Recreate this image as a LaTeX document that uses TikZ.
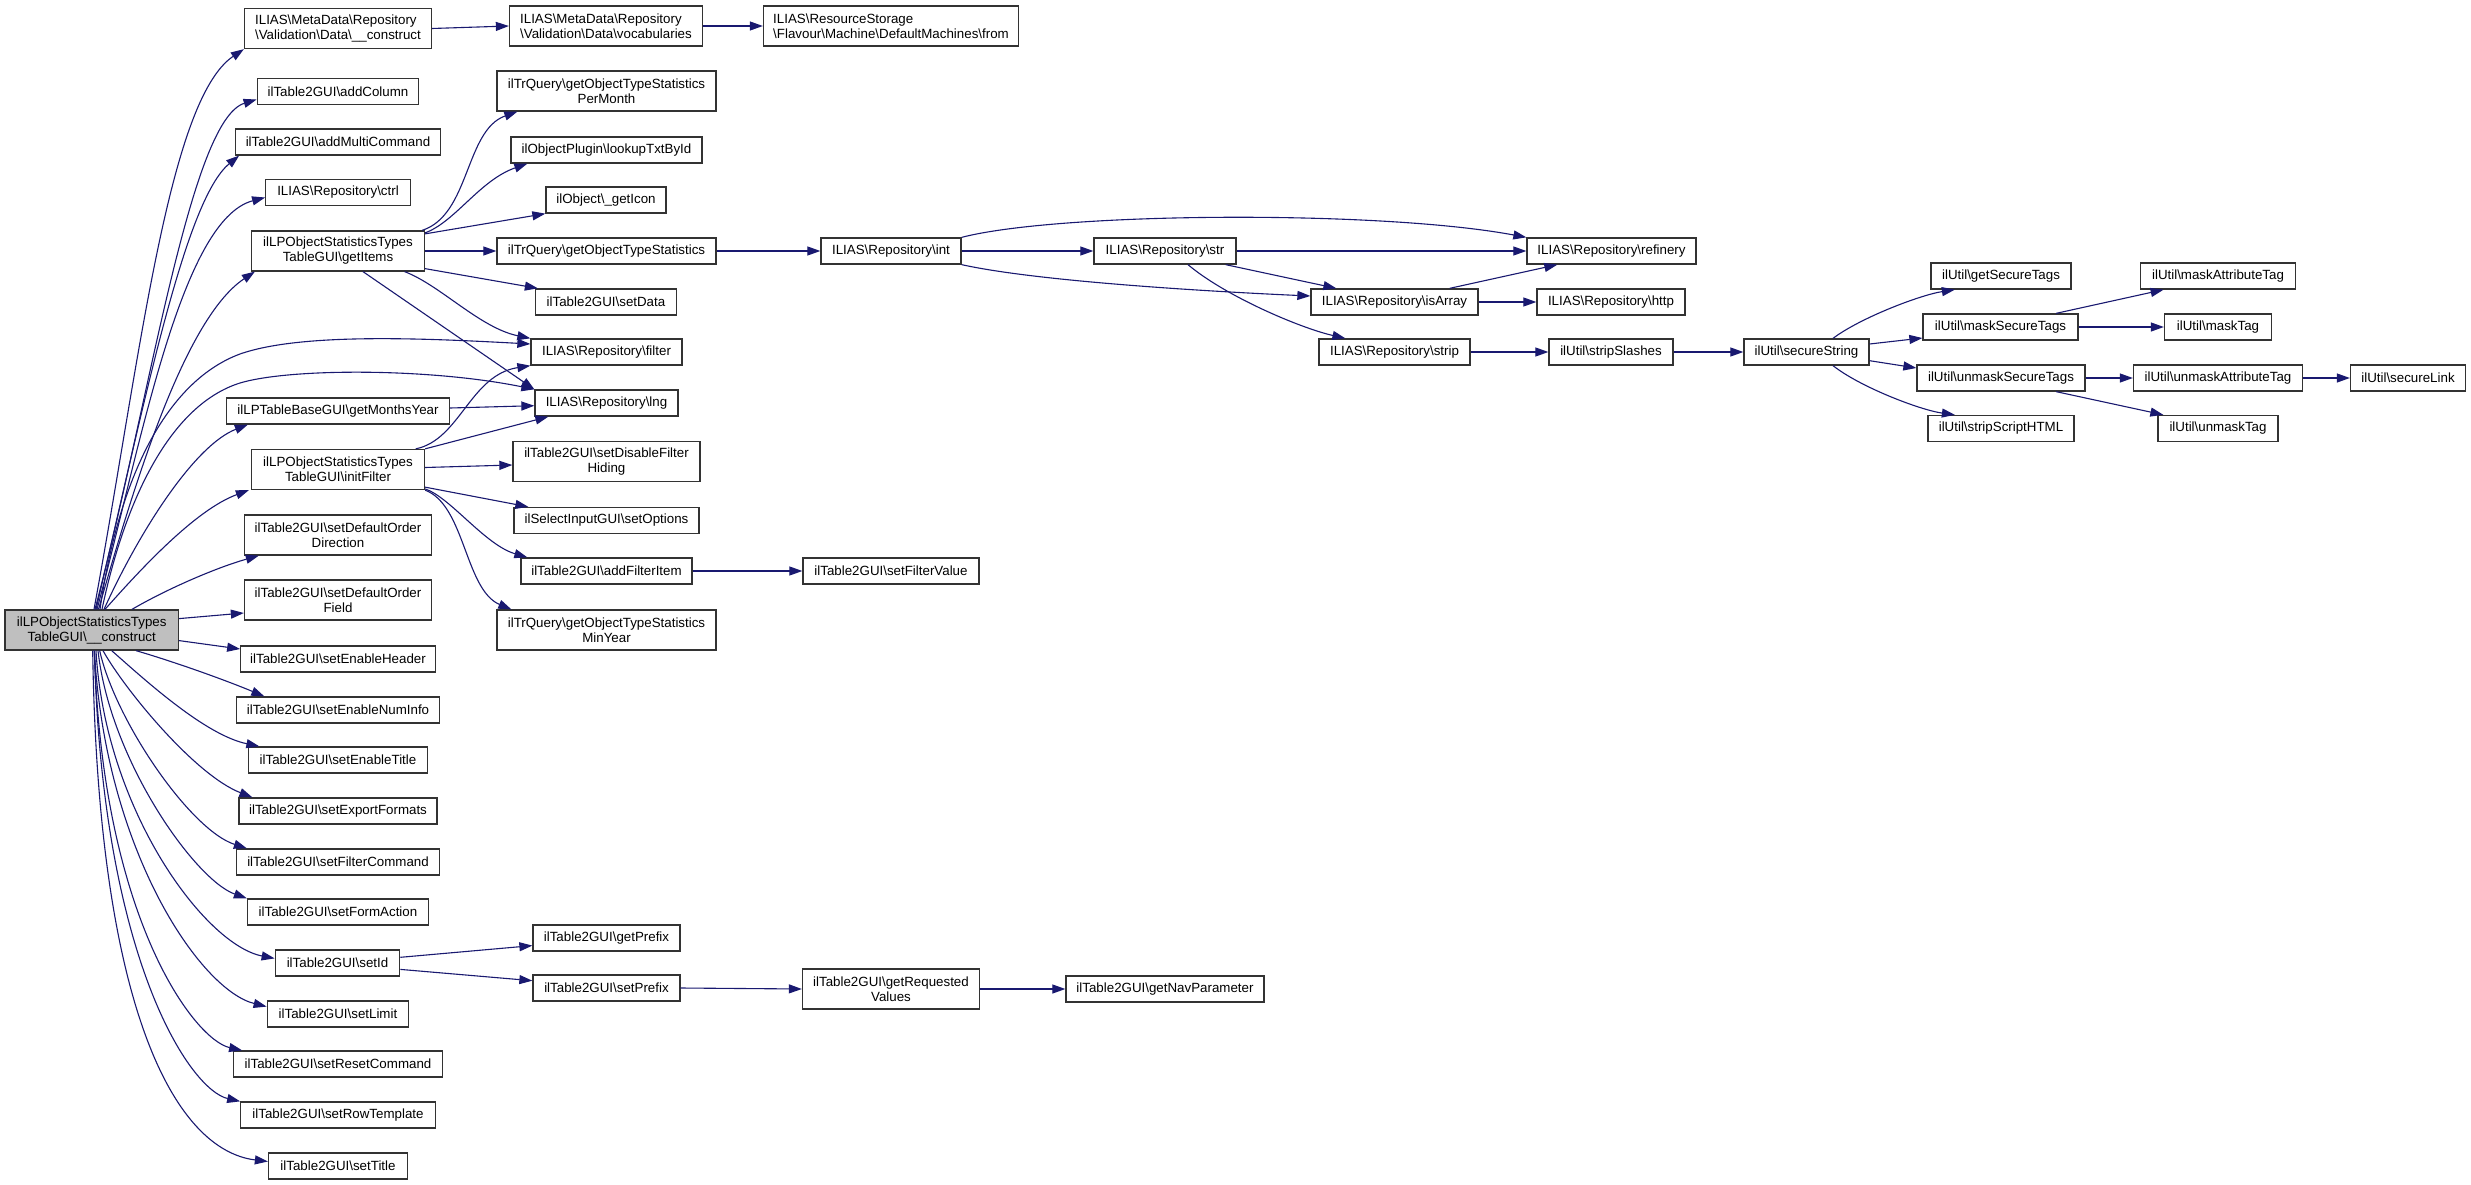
\documentclass[tikz,border=0pt]{standalone}
\usepackage{fontspec}
\setmainfont{Liberation Sans}
\usetikzlibrary{arrows.meta}
\definecolor{edgeblue}{HTML}{191970}
\definecolor{nodegray}{HTML}{BFBFBF}
\newcommand\dxbs{\textbackslash{}}
\begin{document}
\begin{tikzpicture}[x=1pt,y=-1pt,
  fn/.style={draw=black!80, line width=1.3pt, fill=white, inner xsep=2pt, inner ysep=0pt,
    minimum height=26pt, font=\fontsize{13.33pt}{15pt}\selectfont, align=center},
  fn2/.style={fn, minimum height=40pt},
  fl/.style={fn2, align=left},
  e/.style={draw=edgeblue, line width=1.1pt, -{Triangle[length=13pt,width=9pt]}},
]
\fill[white] (0,0) rectangle (2471,1185);
\useasboundingbox (0,0) rectangle (2471,1185);

% column 1
\node[fn2, fill=nodegray, minimum width=173.4pt] (main) at (91.7,630) {ilLPObjectStatisticsTypes\\TableGUI\dxbs\_\_construct};

% column 2
\node[fl, minimum width=187pt] (mdc) at (338,28.5) {ILIAS\dxbs MetaData\dxbs Repository\\\dxbs Validation\dxbs Data\dxbs\_\_construct};
\node[fn, minimum width=161.5pt] (addColumn) at (338,91.5) {ilTable2GUI\dxbs addColumn};
\node[fn, minimum width=204.5pt] (addMulti) at (338,142) {ilTable2GUI\dxbs addMultiCommand};
\node[fn, minimum width=144.5pt] (ctrl) at (338,192.5) {ILIAS\dxbs Repository\dxbs ctrl};
\node[fn2, minimum width=173pt] (getItems) at (338,251) {ilLPObjectStatisticsTypes\\TableGUI\dxbs getItems};
\node[fn, minimum width=223pt] (gmy) at (338,411) {ilLPTableBaseGUI\dxbs getMonthsYear};
\node[fn2, minimum width=173pt] (initFilter) at (338,469.5) {ilLPObjectStatisticsTypes\\TableGUI\dxbs initFilter};
\node[fn2, minimum width=187pt] (sdoDir) at (338,535) {ilTable2GUI\dxbs setDefaultOrder\\Direction};
\node[fn2, minimum width=187pt] (sdoField) at (338,600) {ilTable2GUI\dxbs setDefaultOrder\\Field};
\node[fn, minimum width=194.4pt] (seh) at (338,659) {ilTable2GUI\dxbs setEnableHeader};
\node[fn, minimum width=203pt] (seni) at (338,710) {ilTable2GUI\dxbs setEnableNumInfo};
\node[fn, minimum width=179pt] (sete) at (338,760) {ilTable2GUI\dxbs setEnableTitle};
\node[fn, minimum width=198pt] (sef) at (338,811) {ilTable2GUI\dxbs setExportFormats};
\node[fn, minimum width=203pt] (sfc) at (338,862) {ilTable2GUI\dxbs setFilterCommand};
\node[fn, minimum width=181pt] (sfa) at (338,912) {ilTable2GUI\dxbs setFormAction};
\node[fn, minimum width=124.5pt] (setId) at (337.5,963) {ilTable2GUI\dxbs setId};
\node[fn, minimum width=141.5pt] (setLimit) at (338,1014) {ilTable2GUI\dxbs setLimit};
\node[fn, minimum width=208.5pt] (src) at (338,1064) {ilTable2GUI\dxbs setResetCommand};
\node[fn, minimum width=194.4pt] (srt) at (338,1115) {ilTable2GUI\dxbs setRowTemplate};
\node[fn, minimum width=139pt] (setTitle) at (338,1166) {ilTable2GUI\dxbs setTitle};

% column 3
\node[fl, minimum width=193pt] (voc) at (606,26) {ILIAS\dxbs MetaData\dxbs Repository\\\dxbs Validation\dxbs Data\dxbs vocabularies};
\node[fn2, minimum width=219pt] (perMonth) at (606.5,91) {ilTrQuery\dxbs getObjectTypeStatistics\\PerMonth};
\node[fn, minimum width=191pt] (lookup) at (606.5,150) {ilObjectPlugin\dxbs lookupTxtById};
\node[fn, minimum width=120pt] (getIcon) at (606,200) {ilObject\dxbs\_getIcon};
\node[fn, minimum width=219pt] (gots) at (606.5,251) {ilTrQuery\dxbs getObjectTypeStatistics};
\node[fn, minimum width=141pt] (setData) at (606,302) {ilTable2GUI\dxbs setData};
\node[fn, minimum width=151pt] (filter) at (606.5,352) {ILIAS\dxbs Repository\dxbs filter};
\node[fn, minimum width=143pt] (lng) at (606.5,403) {ILIAS\dxbs Repository\dxbs lng};
\node[fn2, minimum width=187pt] (disable) at (606.5,461.5) {ilTable2GUI\dxbs setDisableFilter\\Hiding};
\node[fn, minimum width=185pt] (setOptions) at (606.5,520.5) {ilSelectInputGUI\dxbs setOptions};
\node[fn, minimum width=171pt] (afi) at (606.5,571) {ilTable2GUI\dxbs addFilterItem};
\node[fn2, minimum width=219pt] (minYear) at (606.5,630) {ilTrQuery\dxbs getObjectTypeStatistics\\MinYear};
\node[fn, minimum width=147pt] (getPrefix) at (606.5,938) {ilTable2GUI\dxbs getPrefix};
\node[fn, minimum width=147pt] (setPrefix) at (606.5,988) {ilTable2GUI\dxbs setPrefix};

% column 4
\node[fl, minimum width=255pt] (from) at (891,26) {ILIAS\dxbs ResourceStorage\\\dxbs Flavour\dxbs Machine\dxbs DefaultMachines\dxbs from};
\node[fn, minimum width=140pt] (int) at (891,251) {ILIAS\dxbs Repository\dxbs int};
\node[fn, minimum width=176pt] (sfv) at (891,571) {ilTable2GUI\dxbs setFilterValue};
\node[fn2, minimum width=177pt] (grv) at (891,989) {ilTable2GUI\dxbs getRequested\\Values};

% column 5
\node[fn, minimum width=142pt] (str) at (1165,251) {ILIAS\dxbs Repository\dxbs str};
\node[fn, minimum width=198pt] (gnp) at (1165,989) {ilTable2GUI\dxbs getNavParameter};

% column 6
\node[fn, minimum width=167pt] (isArray) at (1394.5,302) {ILIAS\dxbs Repository\dxbs isArray};
\node[fn, minimum width=151pt] (strip) at (1394.5,352) {ILIAS\dxbs Repository\dxbs strip};

% column 7
\node[fn, minimum width=169pt] (refinery) at (1611.5,251) {ILIAS\dxbs Repository\dxbs refinery};
\node[fn, minimum width=148pt] (http) at (1611,302) {ILIAS\dxbs Repository\dxbs http};
\node[fn, minimum width=124pt] (stripSlashes) at (1611,352) {ilUtil\dxbs stripSlashes};

% column 8
\node[fn, minimum width=125pt] (secureString) at (1806.5,352) {ilUtil\dxbs secureString};

% column 9
\node[fn, minimum width=140pt] (gst) at (2001,276) {ilUtil\dxbs getSecureTags};
\node[fn, minimum width=155pt] (mst) at (2000.5,327) {ilUtil\dxbs maskSecureTags};
\node[fn, minimum width=168pt] (ust) at (2001,378) {ilUtil\dxbs unmaskSecureTags};
\node[fn, minimum width=146pt] (ssh) at (2001,428.5) {ilUtil\dxbs stripScriptHTML};

% column 10
\node[fn, minimum width=154.5pt] (mat) at (2218,276) {ilUtil\dxbs maskAttributeTag};
\node[fn, minimum width=107pt] (maskTag) at (2218,327) {ilUtil\dxbs maskTag};
\node[fn, minimum width=169pt] (uat) at (2218,378) {ilUtil\dxbs unmaskAttributeTag};
\node[fn, minimum width=120pt] (unmaskTag) at (2218,428.5) {ilUtil\dxbs unmaskTag};

% column 11
\node[fn, minimum width=115pt] (secureLink) at (2408,378) {ilUtil\dxbs secureLink};

% ---- edges from main (upwards)
\draw[e] ([xshift=2.3pt]main.north) .. controls (140,360) and (168,100) .. (mdc.south west);
\draw[e] ([xshift=3.3pt]main.north) .. controls (150,400) and (190,120) .. ([yshift=-8pt]addColumn.west);
\draw[e] ([xshift=4.3pt]main.north) .. controls (145,400) and (185,200) .. ([xshift=4pt]addMulti.south west);
\draw[e] ([xshift=5.3pt]main.north) .. controls (140,450) and (180,220) .. ([yshift=-5pt]ctrl.west);
\draw[e] ([xshift=6.8pt]main.north) .. controls (130,500) and (182,320) .. ([xshift=4pt]getItems.south west);
\draw[e] ([xshift=8.3pt]main.north) .. controls (120,470) and (170,380) .. (240,354) .. controls (300,333) and (420,338) .. ([yshift=8pt]filter.west);
\draw[e] ([xshift=10.3pt]main.north) .. controls (125,500) and (170,405) .. (240,383) .. controls (290,368) and (430,368) .. (lng.north west);
\draw[e] ([xshift=12.3pt]main.north) .. controls (140,530) and (195,445) .. ([xshift=22pt]gmy.south west);
\draw[e] ([xshift=13.3pt]main.north) .. controls (140,570) and (195,510) .. ([xshift=-2pt]initFilter.south west);
\draw[e] ([xshift=40.3pt]main.north) .. controls (165,590) and (215,568) .. ([xshift=15pt]sdoDir.south west);
\draw[e] ([yshift=11.4pt]main.east) -- ([yshift=-13pt]sdoField.west);
\draw[e] ([yshift=-10.6pt]main.east) -- ([yshift=10pt]seh.west);

% ---- edges from main (downwards)
\draw[e] ([xshift=44.3pt]main.south) .. controls (175,662) and (225,680) .. ([xshift=28.5pt]seni.north west);
\draw[e] ([xshift=20pt]main.south) .. controls (145,680) and (205,735) .. ([xshift=11.5pt]sete.north west);
\draw[e] ([xshift=11.3pt]main.south) .. controls (125,690) and (195,775) .. ([xshift=14pt]sef.north west);
\draw[e] ([xshift=8pt]main.south) .. controls (115,720) and (190,830) .. ([xshift=11pt]sfc.north west);
\draw[e] ([xshift=6.3pt]main.south) .. controls (110,760) and (195,880) .. (sfa.north west);
\draw[e] ([xshift=4.3pt]main.south) .. controls (105,810) and (205,945) .. ([yshift=4.6pt]setId.west);
\draw[e] ([xshift=2.7pt]main.south) .. controls (105,850) and (200,990) .. ([yshift=7.4pt]setLimit.west);
\draw[e] ([xshift=2.7pt]main.south) .. controls (102,920) and (195,1040) .. ([xshift=9pt]src.north west);
\draw[e] ([xshift=2.7pt]main.south) .. controls (102,960) and (190,1090) .. (srt.north west);
\draw[e] ([xshift=1pt]main.south) .. controls (98,1010) and (175,1150) .. ([yshift=4.5pt]setTitle.west);

% ---- getItems
\draw[e] ([xshift=-3pt]getItems.north east) .. controls (470,215) and (465,130) .. ([xshift=21pt]perMonth.south west);
\draw[e] ([yshift=-2.5pt]getItems.north east) .. controls (455,222) and (480,180) .. ([xshift=17pt]lookup.south west);
\draw[e] ([yshift=-3.5pt]getItems.north east) -- (getIcon.south west);
\draw[e] (getItems.east) -- (gots.west);
\draw[e] ([yshift=3pt]getItems.south east) -- ([xshift=3pt]setData.north west);
\draw[e] ([xshift=-20.5pt]getItems.south east) .. controls (440,285) and (480,328) .. (filter.north west);
\draw[e] ([xshift=25pt]getItems.south) -- (lng.north west);

% ---- getMonthsYear
\draw[e] ([yshift=3pt]gmy.east) -- ([yshift=-2.7pt]lng.west);

% ---- initFilter
\draw[e] ([xshift=-9.5pt]initFilter.north east) .. controls (460,440) and (470,375) .. (filter.south west);
\draw[e] (initFilter.north east) -- ([xshift=14pt]lng.south west);
\draw[e] ([yshift=2pt]initFilter.east) -- ([yshift=-3.5pt]disable.west);
\draw[e] ([yshift=3pt]initFilter.south east) -- ([xshift=15pt]setOptions.north west);
\draw[e] ([yshift=1.2pt]initFilter.south east) .. controls (450,497) and (485,545) .. ([xshift=7pt]afi.north west);
\draw[e] (initFilter.south east) .. controls (465,505) and (465,590) .. ([xshift=15pt]minYear.north west);

% ---- right part
\draw[e] (mdc.east) -- (voc.west);
\draw[e] (voc.east) -- (from.west);
\draw[e] (gots.east) -- (int.west);
\draw[e] (int.east) -- (str.west);
\draw[e] (int.north east) .. controls (1060,212) and (1380,210) .. (refinery.north west);
\draw[e] (int.south east) .. controls (1040,282) and (1220,292) .. ([yshift=6pt]isArray.west);
\draw[e] (str.east) -- (refinery.west);
\draw[e] ([xshift=-11pt]str.south east) -- ([xshift=26pt]isArray.north west);
\draw[e] ([xshift=23pt]str.south) .. controls (1225,296) and (1300,328) .. ([xshift=27pt]strip.north west);
\draw[e] ([xshift=-29pt]isArray.north east) -- ([xshift=31pt]refinery.south west);
\draw[e] (isArray.east) -- (http.west);
\draw[e] (strip.east) -- (stripSlashes.west);
\draw[e] (stripSlashes.east) -- (secureString.west);
\draw[e] ([xshift=26.5pt]secureString.north) .. controls (1860,318) and (1920,295) .. ([xshift=24.5pt]gst.south west);
\draw[e] ([yshift=8pt]secureString.east) -- ([yshift=-11pt]mst.west);
\draw[e] ([yshift=-8.7pt]secureString.east) -- ([yshift=10pt]ust.west);
\draw[e] ([xshift=26.5pt]secureString.south) .. controls (1860,387) and (1920,410) .. ([xshift=27.5pt]ssh.north west);
\draw[e] ([xshift=-22.5pt]mst.north east) -- ([xshift=23.5pt]mat.south west);
\draw[e] (mst.east) -- (maskTag.west);
\draw[e] (ust.east) -- (uat.west);
\draw[e] ([xshift=-29.5pt]ust.south east) -- ([xshift=6pt]unmaskTag.north west);
\draw[e] (uat.east) -- (secureLink.west);
\draw[e] (afi.east) -- (sfv.west);
\draw[e] ([yshift=5.7pt]setId.east) -- ([yshift=-7.6pt]getPrefix.west);
\draw[e] ([yshift=-6.4pt]setId.east) -- ([yshift=7.3pt]setPrefix.west);
\draw[e] (setPrefix.east) -- (grv.west);
\draw[e] (grv.east) -- (gnp.west);
\end{tikzpicture}
\end{document}
